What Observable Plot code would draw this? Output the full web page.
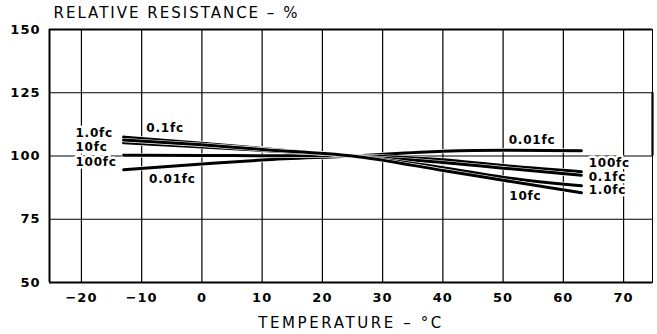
<!DOCTYPE html>
<html>
<head>
<meta charset="utf-8">
<script src="https://cdn.jsdelivr.net/npm/d3@7"></script>
<script src="https://cdn.jsdelivr.net/npm/@observablehq/plot@0.6"></script>
<style>
  html, body { margin: 0; padding: 0; background: #fff; }
  #chart svg { font-family: "DejaVu Sans", sans-serif; }
</style>
</head>
<body>
<div id="chart"></div>
<script>
// ---- data ----
const temps   = [-13, 0, 10, 25, 40, 50, 63];           // °C
const s0_01fc = [94.6, 96.8, 98.4, 100, 101.9, 102.3, 102.1];
const s0_1fc  = [107.5, 105.0, 103.0, 100, 97.4, 95.2, 92.4];
const s1_0fc  = [106.3, 104.4, 102.6, 100, 94.3, 90.4, 85.5];
const s10fc   = [105.2, 103.6, 102.2, 100, 95.4, 91.6, 88.2];
const s100fc  = [100.3, 100.2, 100.1, 100, 98.5, 96.2, 93.8];

const seriesNames  = ["0.01fc", "100fc", "0.1fc", "10fc", "1.0fc"];
const seriesValues = [s0_01fc, s100fc, s0_1fc, s10fc, s1_0fc];

const xTicks = [-20, -10, 0, 10, 20, 30, 40, 50, 60, 70];
const yTicks = [50, 75, 100, 125, 150];
const yGrid  = [75, 100, 125];

const titleText  = "RELATIVE RESISTANCE – %";
const xLabelText = "TEMPERATURE – °C";

// series labels: text, temperature, resistance (data units), anchor
const labelText   = ["1.0fc", "10fc", "100fc", "0.1fc", "0.01fc", "0.01fc", "100fc", "0.1fc", "1.0fc", "10fc"];
const labelTemp   = [-21.0, -21.0, -21.0, -6.1, -4.9, 54.8, 64.2, 64.2, 64.2, 53.7];
const labelValue  = [108.9, 103.6, 97.6, 110.9, 90.9, 106.3, 97.0, 91.7, 86.6, 84.2];
const labelAnchor = ["start", "start", "start", "middle", "middle", "middle", "start", "start", "start", "middle"];

// ---- build tables ----
const xDomain = [-25.3, 74.8];
const yDomain = [50, 150];

const labels = labelText.map((t, i) => ({text: t, x: labelTemp[i], y: labelValue[i], anchor: labelAnchor[i]}));

const lineMarks = [];
seriesValues.forEach((vals, si) => {
  const rows = temps.map((t, i) => ({t, v: vals[i], s: seriesNames[si]}));
  lineMarks.push(Plot.line(rows, {x: "t", y: "v", stroke: "white", strokeWidth: 4.2, curve: "monotone-x"}));
  lineMarks.push(Plot.line(rows, {x: "t", y: "v", stroke: "black", strokeWidth: 3, curve: "monotone-x"}));
});

const fmt = d => d < 0 ? "\u2212" + Math.abs(d) : String(d);
const labelStyle = {fill: "black", stroke: "white", strokeWidth: 5, fontSize: 12, fontWeight: "bold", lineAnchor: "middle", className: "serieslabel"};

const chart = Plot.plot({
  width: 657,
  height: 334,
  marginLeft: 49,
  marginRight: 5,
  marginTop: 29,
  marginBottom: 52,
  style: {fontFamily: "DejaVu Sans, sans-serif", background: "white"},
  x: {domain: xDomain, label: null},
  y: {domain: yDomain, label: null},
  marks: [
    Plot.gridX(xTicks, {stroke: "black", strokeOpacity: 1, strokeWidth: 1.2}),
    Plot.gridY(yGrid, {stroke: "black", strokeOpacity: 1, strokeWidth: 1.2}),
    Plot.frame({stroke: "black", strokeWidth: 1}),
    Plot.ruleX([xDomain[0]], {stroke: "black", strokeWidth: 2}),
    Plot.ruleY([yDomain[0], yDomain[1]], {stroke: "black", strokeWidth: 2}),
    Plot.ruleX([xDomain[1]], {y1: 100, y2: 125, stroke: "black", strokeWidth: 2.2}),
    ...lineMarks,
    Plot.text(labels.filter(d => d.anchor === "start"), {x: "x", y: "y", text: "text", textAnchor: "start", ...labelStyle}),
    Plot.text(labels.filter(d => d.anchor === "middle"), {x: "x", y: "y", text: "text", textAnchor: "middle", ...labelStyle}),
    Plot.axisX(xTicks, {tickSize: 0, tickPadding: 10, fontSize: 13, fontWeight: "bold", tickFormat: fmt, label: null, className: "ticklab"}),
    Plot.axisY(yTicks, {tickSize: 0, tickPadding: 9, fontSize: 13, fontWeight: "bold", label: null, className: "ticklab"}),
    Plot.text([titleText], {frameAnchor: "top-left", lineAnchor: "middle", dx: 4, dy: -16, textAnchor: "start", fontSize: 15, fill: "black", className: "titlelab"}),
    Plot.text([xLabelText], {frameAnchor: "bottom", lineAnchor: "middle", dy: 41, textAnchor: "middle", fontSize: 15, fill: "black", className: "xlab"})
  ]
});

document.getElementById("chart").appendChild(chart);
// letter spacing for the plotter-like lettering
const svg = d3.select(chart);
svg.selectAll(".ticklab text").style("letter-spacing", "1px");
svg.selectAll(".serieslabel text").style("letter-spacing", "0.8px");
svg.selectAll(".titlelab text").style("letter-spacing", "2px");
svg.selectAll(".xlab text").style("letter-spacing", "2.6px");
</script>
</body>
</html>
